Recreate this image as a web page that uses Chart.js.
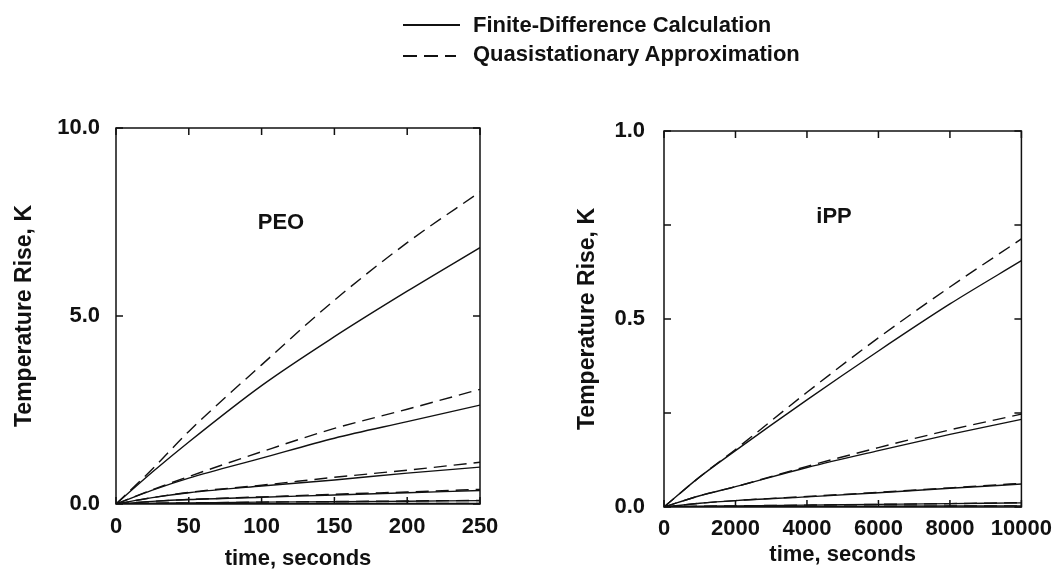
<!DOCTYPE html>
<html>
<head>
<meta charset="utf-8">
<script src="https://cdn.jsdelivr.net/npm/chart.js@4/dist/chart.umd.min.js"></script>
<style>
  html, body { margin: 0; padding: 0; background: #fff; }
  body { width: 1061px; height: 573px; position: relative; overflow: hidden;
         font-family: 'Liberation Sans', Arial, Helvetica, sans-serif; color: #111; }
  canvas { position: absolute; top: 0; }
  #cPEO { left: 0; }
  #cIPP { left: 530px; }
  .lbl { position: absolute; font-size: 22px; font-weight: bold; line-height: 1;
         transform: translate(-50%, -50%); white-space: nowrap; }
  .leg { position: absolute; font-size: 22px; font-weight: bold; line-height: 26px; white-space: nowrap; }
  .legline { position: absolute; height: 1.5px; }
</style>
</head>
<body>
<canvas id="cPEO" width="530" height="573"></canvas>
<canvas id="cIPP" width="531" height="573"></canvas>

<div class="legline" style="left:403px; top:24px; width:57px; background:#111;"></div>
<div class="leg" style="left:473px; top:12px;">Finite-Difference Calculation</div>
<div class="legline" style="left:403px; top:55px; width:53px; background:repeating-linear-gradient(to right, #111 0 14px, transparent 14px 21px);"></div>
<div class="leg" style="left:473px; top:41px;">Quasistationary Approximation</div>

<div class="lbl" style="left:281px; top:222px;">PEO</div>
<div class="lbl" style="left:834px; top:216px;">iPP</div>

<script>
// ---------- data ----------
const seriesNames = ['Finite-Difference Calculation', 'Quasistationary Approximation'];

// PEO panel (time in seconds, temperature rise in K)
const peoTime = [0, 25, 50, 100, 150, 200, 250];
const peoFD1 = [0, 0.85, 1.65, 3.15, 4.45, 5.66, 6.82];
const peoQS1 = [0, 0.93, 1.93, 3.70, 5.42, 6.95, 8.30];
const peoFD2 = [0, 0.37, 0.69, 1.22, 1.75, 2.19, 2.63];
const peoQS2 = [0, 0.38, 0.73, 1.39, 2.01, 2.52, 3.05];
const peoFD3 = [0, 0.17, 0.30, 0.48, 0.64, 0.82, 0.98];
const peoQS3 = [0, 0.17, 0.31, 0.50, 0.71, 0.90, 1.11];
const peoFD4 = [0, 0.07, 0.12, 0.18, 0.24, 0.30, 0.36];
const peoQS4 = [0, 0.07, 0.12, 0.19, 0.26, 0.32, 0.39];
const peoFD5 = [0, 0.02, 0.03, 0.05, 0.06, 0.075, 0.09];
const peoQS5 = [0, 0.02, 0.03, 0.05, 0.065, 0.08, 0.095];
const peoFD6 = [0, 0.004, 0.006, 0.009, 0.012, 0.014, 0.016];
const peoQS6 = [0, 0.004, 0.006, 0.009, 0.012, 0.015, 0.017];

// iPP panel
const ippTime = [0, 1000, 2000, 4000, 6000, 8000, 10000];
const ippFD1 = [0, 0.08, 0.15, 0.285, 0.415, 0.54, 0.655];
const ippQS1 = [0, 0.08, 0.153, 0.305, 0.45, 0.585, 0.713];
const ippFD2 = [0, 0.03, 0.054, 0.105, 0.15, 0.193, 0.233];
const ippQS2 = [0, 0.03, 0.054, 0.108, 0.158, 0.205, 0.247];
const ippFD3 = [0, 0.01, 0.017, 0.027, 0.038, 0.05, 0.061];
const ippQS3 = [0, 0.01, 0.017, 0.028, 0.039, 0.051, 0.063];
const ippFD4 = [0, 0.002, 0.003, 0.005, 0.007, 0.009, 0.011];
const ippQS4 = [0, 0.002, 0.003, 0.005, 0.007, 0.009, 0.0115];
const ippFD5 = [0, 0.0005, 0.001, 0.0015, 0.002, 0.0025, 0.003];
const ippQS5 = [0, 0.0005, 0.001, 0.0015, 0.002, 0.0025, 0.003];

// tick labels
const peoXTicks = [0, 50, 100, 150, 200, 250];
const peoYTicks = ['0.0', '5.0', '10.0'];
const ippXTicks = [0, 2000, 4000, 6000, 8000, 10000];
const ippYTicks = ['0.0', '0.5', '1.0'];

// ---------- chart setup ----------
const INK = '#111';
Chart.defaults.font.family = "'Liberation Sans', Arial, Helvetica, sans-serif";
Chart.defaults.font.size = 22;
Chart.defaults.font.weight = 'bold';
Chart.defaults.color = INK;

function pts(xs, ys) { return xs.map((x, i) => ({ x: x, y: ys[i] })); }
function ds(xs, ys, dashed) {
  return {
    label: dashed ? seriesNames[1] : seriesNames[0],
    data: pts(xs, ys),
    borderColor: INK,
    borderWidth: 1.4,
    borderDash: dashed ? [13, 7] : [],
    pointRadius: 0,
    fill: false,
    cubicInterpolationMode: 'monotone'
  };
}

const framePlugin = {
  id: 'frameTicks',
  afterDatasetsDraw(chart) {
    const { ctx, chartArea: a, scales: { x, y } } = chart;
    const L = 7;
    ctx.save();
    ctx.strokeStyle = INK;
    ctx.lineWidth = 1.5;
    ctx.setLineDash([]);
    ctx.strokeRect(a.left, a.top, a.right - a.left, a.bottom - a.top);
    ctx.beginPath();
    x.ticks.forEach(t => {
      const px = x.getPixelForValue(t.value);
      ctx.moveTo(px, a.bottom); ctx.lineTo(px, a.bottom - L);
      ctx.moveTo(px, a.top); ctx.lineTo(px, a.top + L);
    });
    y.ticks.forEach(t => {
      const py = y.getPixelForValue(t.value);
      ctx.moveTo(a.left, py); ctx.lineTo(a.left + L, py);
      ctx.moveTo(a.right, py); ctx.lineTo(a.right - L, py);
    });
    ctx.stroke();
    ctx.restore();
  }
};

function makeChart(id, cfg) {
  return new Chart(document.getElementById(id), {
    type: 'line',
    data: { datasets: cfg.datasets },
    options: {
      responsive: false,
      devicePixelRatio: 1,
      animation: false,
      events: [],
      layout: { padding: { left: 0, right: cfg.padRight, top: cfg.padTop, bottom: 0 } },
      plugins: { legend: { display: false }, tooltip: { enabled: false } },
      scales: {
        x: {
          type: 'linear', min: cfg.xMin, max: cfg.xMax,
          grid: { display: false, drawTicks: false },
          border: { display: false },
          afterBuildTicks: s => { s.ticks = cfg.xTicks.map(v => ({ value: v })); },
          ticks: { padding: cfg.xTickPad, maxRotation: 0, autoSkip: false,
                   callback: v => String(v) },
          title: { display: true, text: 'time, seconds', padding: { top: 0, bottom: cfg.xTitlePad } },
          afterFit: s => { s.height = cfg.xHeight; }
        },
        y: {
          type: 'linear', min: cfg.yMin, max: cfg.yMax,
          grid: { display: false, drawTicks: false },
          border: { display: false },
          afterBuildTicks: s => { s.ticks = cfg.yTickVals.map(v => ({ value: v })); },
          ticks: { padding: cfg.yTickPad, autoSkip: false,
                   callback: v => { const i = cfg.yLabelVals.indexOf(v); return i >= 0 ? cfg.yLabels[i] : ''; } },
          title: { display: true, text: 'Temperature Rise, K', font: { size: 23 },
                   padding: { top: cfg.yTitlePad, bottom: 0 } },
          afterFit: s => { s.width = cfg.yWidth; }
        }
      }
    },
    plugins: [framePlugin]
  });
}

makeChart('cPEO', {
  datasets: [
    ds(peoTime, peoFD1, false), ds(peoTime, peoQS1, true),
    ds(peoTime, peoFD2, false), ds(peoTime, peoQS2, true),
    ds(peoTime, peoFD3, false), ds(peoTime, peoQS3, true),
    ds(peoTime, peoFD4, false), ds(peoTime, peoQS4, true),
    ds(peoTime, peoFD5, false), ds(peoTime, peoQS5, true),
    ds(peoTime, peoFD6, false), ds(peoTime, peoQS6, true)
  ],
  xMin: 0, xMax: 250, yMin: 0, yMax: 10,
  xTicks: peoXTicks,
  yTickVals: [0, 5, 10], yLabelVals: [0, 5, 10], yLabels: peoYTicks,
  padRight: 50, padTop: 128, xHeight: 69, yWidth: 116,
  xTickPad: 10, yTickPad: 16, xTitlePad: 1, yTitlePad: 11
});

makeChart('cIPP', {
  datasets: [
    ds(ippTime, ippFD1, false), ds(ippTime, ippQS1, true),
    ds(ippTime, ippFD2, false), ds(ippTime, ippQS2, true),
    ds(ippTime, ippFD3, false), ds(ippTime, ippQS3, true),
    ds(ippTime, ippFD4, false), ds(ippTime, ippQS4, true),
    ds(ippTime, ippFD5, false), ds(ippTime, ippQS5, true)
  ],
  xMin: 0, xMax: 10000, yMin: 0, yMax: 1,
  xTicks: ippXTicks,
  yTickVals: [0, 0.25, 0.5, 0.75, 1], yLabelVals: [0, 0.5, 1], yLabels: ippYTicks,
  padRight: 39, padTop: 131, xHeight: 66, yWidth: 134,
  xTickPad: 9, yTickPad: 19, xTitlePad: 5, yTitlePad: 44
});
</script>
</body>
</html>
